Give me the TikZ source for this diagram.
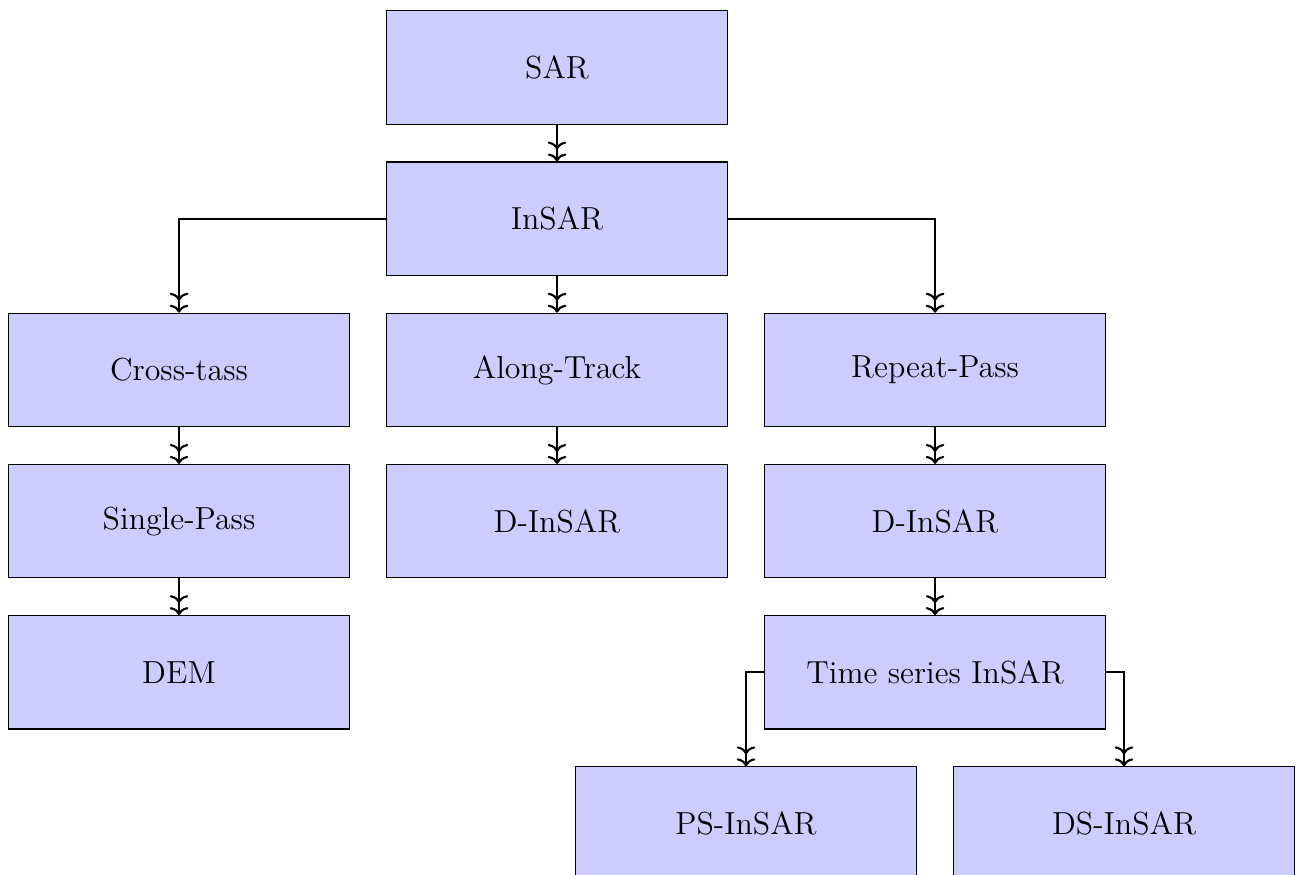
\documentclass[tikz,border=0pt]{standalone}
\usepackage{tikz}
\usetikzlibrary{arrows.meta}

\begin{document}
\begin{tikzpicture}[box/.style={draw, fill=blue!20, minimum width=4.5cm, minimum height=1.5cm, font=\large},
    link/.style={-{To[length=3pt,width=7pt,sep=1.5pt]To[length=3pt,width=7pt]}, thick}]
    \useasboundingbox (-7.368,0.893) rectangle (9.854,-10.68);
    \node[box] (sar) at (0,0) {SAR};
    \node[box] (insar) at (0,-2) {InSAR};
    \node[box] (cross) at (-5,-4) {Cross-tass};
    \node[box] (along) at (0,-4) {Along-Track};
    \node[box] (rep) at (5,-4) {Repeat-Pass};
    \node[box] (single) at (-5,-6) {Single-Pass};
    \node[box] (dinsara) at (0,-6) {D-InSAR};
    \node[box] (dinsarb) at (5,-6) {D-InSAR};
    \node[box] (dem) at (-5,-8) {DEM};
    \node[box] (ts) at (5,-8) {Time series InSAR};
    \node[box] (ps) at (2.5,-10) {PS-InSAR};
    \node[box] (ds) at (7.5,-10) {DS-InSAR};
    \draw[link] (sar) -- (insar);
    \draw[link] (insar.west) -| (cross.north);
    \draw[link] (insar) -- (along);
    \draw[link] (insar.east) -| (rep.north);
    \draw[link] (cross) -- (single);
    \draw[link] (single) -- (dem);
    \draw[link] (along) -- (dinsara);
    \draw[link] (rep) -- (dinsarb);
    \draw[link] (dinsarb) -- (ts);
    \draw[link] (ts.west) -| (ps.north);
    \draw[link] (ts.east) -| (ds.north);
  \end{tikzpicture}
\end{document}
